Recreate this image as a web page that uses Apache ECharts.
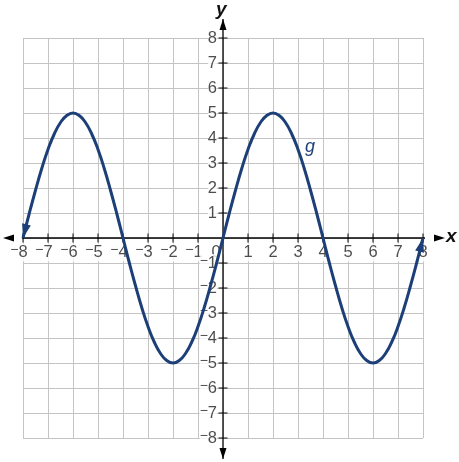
<!DOCTYPE html>
<html><head><meta charset="utf-8">
<script src="https://cdn.jsdelivr.net/npm/echarts@6/dist/echarts.min.js"></script>
<style>html,body{margin:0;padding:0;background:#fff}#c{width:459px;height:462px}</style>
</head><body><div id="c"></div>
<script>
const xTicks = [-8,-7,-6,-5,-4,-3,-2,-1,0,1,2,3,4,5,6,7,8];
const yTicks = [-8,-7,-6,-5,-4,-3,-2,-1,0,1,2,3,4,5,6,7,8];
const curveX = [-8,-7.75,-7.5,-7.25,-7,-6.75,-6.5,-6.25,-6,-5.75,-5.5,-5.25,-5,-4.75,-4.5,-4.25,-4,-3.75,-3.5,-3.25,-3,-2.75,-2.5,-2.25,-2,-1.75,-1.5,-1.25,-1,-0.75,-0.5,-0.25,0,0.25,0.5,0.75,1,1.25,1.5,1.75,2,2.25,2.5,2.75,3,3.25,3.5,3.75,4,4.25,4.5,4.75,5,5.25,5.5,5.75,6,6.25,6.5,6.75,7,7.25,7.5,7.75,8];
const curveY = [0,0.98,1.91,2.78,3.54,4.16,4.62,4.9,5,4.9,4.62,4.16,3.54,2.78,1.91,0.98,0,-0.98,-1.91,-2.78,-3.54,-4.16,-4.62,-4.9,-5,-4.9,-4.62,-4.16,-3.54,-2.78,-1.91,-0.98,0,0.98,1.91,2.78,3.54,4.16,4.62,4.9,5,4.9,4.62,4.16,3.54,2.78,1.91,0.98,0,-0.98,-1.91,-2.78,-3.54,-4.16,-4.62,-4.9,-5,-4.9,-4.62,-4.16,-3.54,-2.78,-1.91,-0.98,0];
const xAxisEnds = [-8.8, 8.88];
const yAxisEnds = [-8.84, 8.76];
const seriesName = 'g';

const FONT = "'Liberation Sans', Arial, sans-serif";
const BLUE = '#1d3f78';
const data = curveX.map((x, i) => [x, curveY[i]]);
const n = data.length;
function dirAngle(a, b) { return Math.atan2(b[1] - a[1], b[0] - a[0]) * 180 / Math.PI; }
const leftRot = dirAngle(data[1], data[0]) - 90;
const rightRot = dirAngle(data[n - 2], data[n - 1]) - 90;
const ARROW = 'path://M0,-14L0,-14M0,0L-4.5,14L4.5,14Z';

const xTickPts = xTicks.filter(v => v !== 0).map(v => [v, 0]);
const yTickPts = yTicks.filter(v => v !== 0).map(v => [0, v]);
const xLabelPts = xTicks.map(v => [v, 0]);
const yLabelPts = yTicks.filter(v => v !== 0).map(v => [0, v]);

const rich = {
  d: {fontSize: 16.5, lineHeight: 18, fontFamily: FONT, color: '#222'},
  m: {fontSize: 14, lineHeight: 12, verticalAlign: 'top', fontFamily: FONT, color: '#222'},
  p: {width: 8, lineHeight: 18},
  z: {fontSize: 16.5, lineHeight: 11, verticalAlign: 'top', padding: [0, 14, 0, 0], fontFamily: FONT, color: '#222'}
};
function xFmt(p) {
  const v = p.value[0];
  if (v === 0) return '{z|0}';
  if (v < 0) return '{m|\u2212}{d|' + (-v) + '}{p|}';
  return '{d|' + v + '}';
}
function yFmt(p) {
  const v = p.value[1];
  if (v < 0) return '{m|\u2212}{d|' + (-v) + '}';
  return '{d|' + v + '}';
}
function axisSeries(pts) {
  const rots = [dirAngle(pts[1], pts[0]) - 90, dirAngle(pts[0], pts[1]) - 90];
  return {
    type: 'line', data: pts, clip: false, silent: true, z: 4, showAllSymbol: true,
    symbol: ARROW, symbolSize: [7, 22], symbolKeepAspect: false,
    symbolRotate: (v, p) => rots[p.dataIndex],
    itemStyle: {color: '#000'}, lineStyle: {color: '#000', width: 1.3}
  };
}
const gridLine = {show: true, lineStyle: {color: '#c4c4c4', width: 1}};

const chart = echarts.init(document.getElementById('c'), null, {renderer: 'canvas'});
chart.setOption({
  animation: false,
  backgroundColor: '#fff',
  grid: {left: 23, right: 36, top: 38, bottom: 24, containLabel: false},
  xAxis: {
    type: 'value', min: xTicks[0], max: xTicks[xTicks.length - 1], interval: 1,
    axisLine: {show: false}, axisTick: {show: false}, axisLabel: {show: false}, splitLine: gridLine
  },
  yAxis: {
    type: 'value', min: yTicks[0], max: yTicks[yTicks.length - 1], interval: 1,
    axisLine: {show: false}, axisTick: {show: false}, axisLabel: {show: false}, splitLine: gridLine
  },
  series: [
    {
      type: 'scatter', data: xLabelPts, silent: true, clip: false, z: 2, symbolSize: 0,
      label: {show: true, position: 'bottom', distance: 5.5, formatter: xFmt, rich: rich, backgroundColor: '#fff'}
    },
    {
      type: 'scatter', data: yLabelPts, silent: true, clip: false, z: 2, symbolSize: 0,
      label: {show: true, position: 'left', distance: 6, align: 'right', formatter: yFmt, rich: rich, backgroundColor: '#fff'}
    },
    axisSeries([[xAxisEnds[0], 0], [xAxisEnds[1], 0]]),
    axisSeries([[0, yAxisEnds[0]], [0, yAxisEnds[1]]]),
    {
      type: 'scatter', data: xTickPts, silent: true, clip: false, z: 4,
      symbol: 'rect', symbolSize: [1.2, 9], itemStyle: {color: '#000'}
    },
    {
      type: 'scatter', data: yTickPts, silent: true, clip: false, z: 4,
      symbol: 'rect', symbolSize: [9, 1.2], itemStyle: {color: '#000'}
    },
    {
      name: seriesName, type: 'line', data: data, smooth: true, clip: false,
      showAllSymbol: true, z: 5,
      symbol: (v, p) => (p.dataIndex === 0 || p.dataIndex === n - 1) ? ARROW : 'none',
      symbolSize: [9, 28],
      symbolRotate: (v, p) => p.dataIndex === 0 ? leftRot : (p.dataIndex === n - 1 ? rightRot : 0),
      symbolKeepAspect: false,
      itemStyle: {color: BLUE},
      lineStyle: {color: BLUE, width: 3}
    }
  ],
  graphic: [
    {type: 'text', left: 305, top: 138, z: 10, style: {text: seriesName, fill: BLUE, font: 'italic 18px ' + FONT}},
    {type: 'text', left: 446, top: 227, z: 10, style: {text: 'x', fill: '#111', font: 'italic bold 19px ' + FONT}},
    {type: 'text', left: 216, top: 0, z: 10, style: {text: 'y', fill: '#111', font: 'italic bold 19px ' + FONT}}
  ]
});
</script>
</body></html>
